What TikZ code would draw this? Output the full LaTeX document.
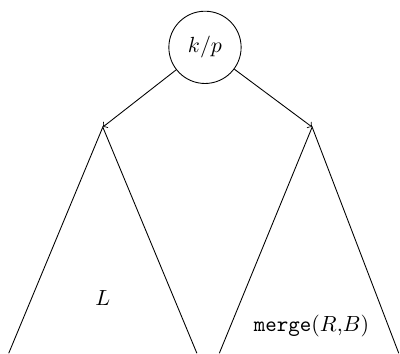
\documentclass[tikz,border=0pt]{standalone}
\begin{document}
\begin{tikzpicture}
  \useasboundingbox (0,0) rectangle (6.42,5.67);
  \node[draw, circle, minimum size=1.16cm] (root) at (3.29,4.91) {$k/p$};
  \coordinate (lt) at (1.65,3.63);
  \coordinate (rt) at (5.01,3.63);
  \draw[->] (root) -- (lt);
  \draw[->] (root) -- (rt);
  \draw (0.14,0) -- (lt) -- (3.16,0);
  \draw (3.52,0) -- (rt) -- (6.40,0);
  \node (lab) at (1.65,0.88) {$L$};
  \node (mrg) at (5.0,0.43) {\texttt{merge}($R$,$B$)};
\end{tikzpicture}
\end{document}
